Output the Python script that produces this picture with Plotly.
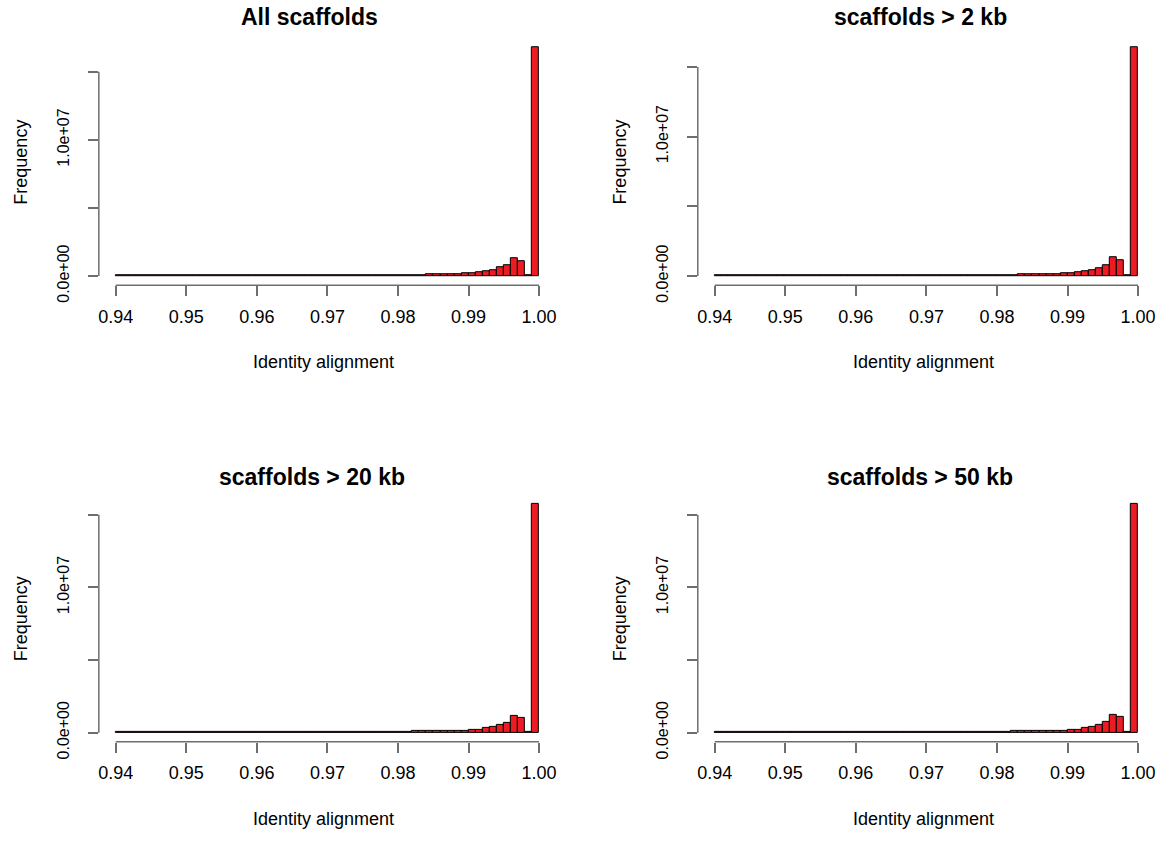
import numpy as np
import plotly.graph_objects as go

# ---------------- data ----------------
titles = ["All scaffolds", "scaffolds > 2 kb", "scaffolds > 20 kb", "scaffolds > 50 kb"]
x_label = "Identity alignment"
y_label = "Frequency"

bin_start = 0.94
bin_width = 0.001
n_bins = 60

x_ticks = [0.94, 0.95, 0.96, 0.97, 0.98, 0.99, 1.00]
x_tick_text = ["0.94", "0.95", "0.96", "0.97", "0.98", "0.99", "1.00"]
y_ticks = [0, 5e6, 1e7, 1.5e7]
y_tick_text = ["0.0e+00", "", "1.0e+07", ""]

counts_all = [
    55000, 56000, 56000, 57000, 57000, 58000, 58000, 59000, 59000, 60000,
    60000, 61000, 61000, 62000, 62000, 63000, 63000, 64000, 64000, 65000,
    66000, 66000, 67000, 68000, 68000, 69000, 70000, 71000, 72000, 73000,
    74000, 75000, 76000, 77000, 78000, 79000, 80000, 82000, 84000, 86000,
    88000, 90000, 92000, 94000, 97000, 100000, 120000, 140000, 160000, 185000,
    205000, 270000, 360000, 450000, 650000, 790000, 1330000, 1080000, 55000, 16800000,
]
counts_2kb = [
    55000, 55000, 56000, 56000, 57000, 57000, 58000, 58000, 59000, 59000,
    60000, 60000, 61000, 61000, 62000, 62000, 63000, 63000, 64000, 65000,
    65000, 66000, 67000, 67000, 68000, 69000, 70000, 71000, 72000, 73000,
    74000, 75000, 76000, 77000, 78000, 79000, 80000, 82000, 84000, 86000,
    88000, 90000, 92000, 94000, 97000, 100000, 118000, 138000, 158000, 180000,
    200000, 260000, 350000, 450000, 560000, 750000, 1340000, 1100000, 55000, 16400000,
]
counts_20kb = [
    54000, 54000, 55000, 55000, 56000, 56000, 57000, 57000, 58000, 58000,
    59000, 59000, 60000, 60000, 61000, 61000, 62000, 62000, 63000, 64000,
    64000, 65000, 66000, 66000, 67000, 68000, 69000, 70000, 71000, 72000,
    73000, 74000, 75000, 76000, 77000, 78000, 79000, 81000, 83000, 85000,
    87000, 89000, 91000, 93000, 96000, 99000, 112000, 125000, 140000, 150000,
    165000, 200000, 320000, 430000, 540000, 680000, 1170000, 1000000, 54000, 15740000,
]
counts_50kb = [
    54000, 54000, 55000, 55000, 56000, 56000, 57000, 57000, 58000, 58000,
    59000, 59000, 60000, 60000, 61000, 61000, 62000, 62000, 63000, 64000,
    64000, 65000, 66000, 66000, 67000, 68000, 69000, 70000, 71000, 72000,
    73000, 74000, 75000, 76000, 77000, 78000, 79000, 81000, 83000, 85000,
    87000, 89000, 91000, 93000, 96000, 99000, 112000, 125000, 140000, 155000,
    175000, 220000, 340000, 410000, 560000, 720000, 1240000, 1080000, 54000, 15740000,
]
all_counts = [counts_all, counts_2kb, counts_20kb, counts_50kb]

# ---------------- layout geometry ----------------
W, H = 1161, 848
FONT = "Liberation Sans, Arial, sans-serif"
AX_COL = "#6e6e6e"
BAR_COL = "#EC1C24"

# plot regions in pixels: (left, right, top, bottom)
regions = [
    (98, 556, 39, 291),
    (698, 1156, 39, 291),
    (98, 556, 505, 757),
    (698, 1156, 505, 757),
]
title_pos = [(309, 17), (921, 17), (312, 487), (921, 487)]
xlab_pos = [(323, 369), (924, 369), (323, 836), (924, 836)]
ylab_pos = [(20, 165), (620, 165), (20, 631), (620, 631)]

edges = np.round(bin_start + bin_width * np.arange(n_bins), 4)
centers = edges + bin_width / 2

fig = go.Figure()
shapes = []
annotations = []
for i, counts in enumerate(all_counts):
    k = "" if i == 0 else str(i + 1)
    xa, ya = "x" + k, "y" + k
    fig.add_trace(go.Bar(
        x=centers, y=counts, width=bin_width,
        marker=dict(color=BAR_COL, line=dict(color="black", width=1)),
        xaxis=xa, yaxis=ya, hoverinfo="x+y",
    ))
    l, r, t, b = regions[i]
    ymax = max(counts)
    xr = [x_ticks[0] - 0.04 * (x_ticks[-1] - x_ticks[0]), x_ticks[-1] + 0.04 * (x_ticks[-1] - x_ticks[0])]
    fig.layout["xaxis" + k] = dict(
        domain=[l / W, r / W], anchor=ya, range=xr,
        tickvals=x_ticks, ticktext=x_tick_text,
        ticks="outside", ticklen=10, tickwidth=1.5, tickcolor=AX_COL,
        ticklabelstandoff=5,
        showline=False, showgrid=False, zeroline=False,
        tickfont=dict(family=FONT, size=18, color="black"),
    )
    fig.layout["yaxis" + k] = dict(
        domain=[1 - b / H, 1 - t / H], anchor=xa, range=[-0.04 * ymax, 1.04 * ymax],
        tickvals=y_ticks, ticktext=y_tick_text, tickangle=-90,
        ticks="outside", ticklen=10, tickwidth=1.5, tickcolor=AX_COL,
        ticklabelstandoff=12,
        showline=False, showgrid=False, zeroline=False,
        tickfont=dict(family=FONT, size=16, color="black"),
    )
    shapes.append(dict(type="line", xref=xa, yref=ya + " domain",
                       x0=x_ticks[0], x1=x_ticks[-1], y0=0, y1=0,
                       line=dict(color=AX_COL, width=1.5)))
    shapes.append(dict(type="line", xref=xa + " domain", yref=ya,
                       x0=0, x1=0, y0=y_ticks[0], y1=y_ticks[-1],
                       line=dict(color=AX_COL, width=1.5)))
    tx, ty = title_pos[i]
    annotations.append(dict(text="<b>" + titles[i] + "</b>", x=tx / W, y=1 - ty / H,
                            xref="paper", yref="paper", showarrow=False,
                            xanchor="center", yanchor="middle",
                            font=dict(family=FONT, size=23, color="black")))
    lx, ly = xlab_pos[i]
    annotations.append(dict(text=x_label, x=lx / W, y=1 - ly / H,
                            xref="paper", yref="paper", showarrow=False,
                            xanchor="center", yanchor="middle",
                            font=dict(family=FONT, size=18, color="black")))
    qx, qy = ylab_pos[i]
    annotations.append(dict(text=y_label, x=qx / W, y=1 - qy / H, textangle=-90,
                            xref="paper", yref="paper", showarrow=False,
                            xanchor="center", yanchor="middle",
                            font=dict(family=FONT, size=18, color="black")))

fig.update_layout(
    width=W, height=H, margin=dict(l=0, r=0, t=0, b=0),
    paper_bgcolor="white", plot_bgcolor="white",
    showlegend=False, bargap=0,
    shapes=shapes, annotations=annotations,
)
fig.write_html("out.html")
